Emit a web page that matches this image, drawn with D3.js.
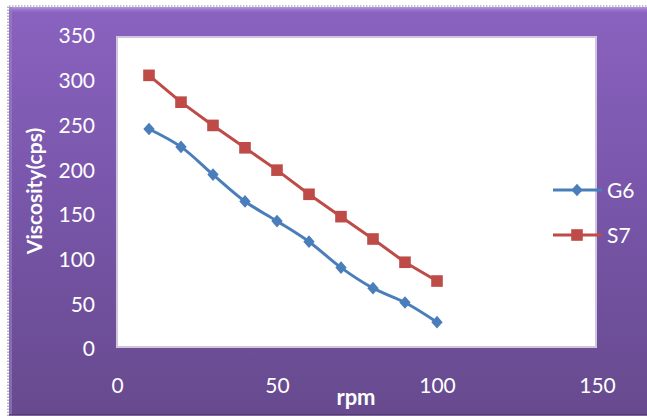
<!DOCTYPE html>
<html>
<head>
<meta charset="utf-8">
<script src="https://cdn.jsdelivr.net/npm/d3@7"></script>
<style>
  html, body { margin: 0; padding: 0; background: #ffffff; }
  svg { display: block; }
  text { font-family: Lato, "Open Sans", sans-serif; fill: #ffffff; }
</style>
</head>
<body>
<svg id="chart" width="647" height="416"></svg>
<script>
// Shear rate (rpm) against viscosity (cps) for two formulations
const rpm = [10, 20, 30, 40, 50, 60, 70, 80, 90, 100];
const g6 = [246, 226, 195, 165, 143, 120, 91, 68, 52, 30];
const s7 = [306, 276, 250, 225, 200, 173, 148, 123, 97, 76];
const seriesNames = ["G6", "S7"];
const xTicks = [0, 50, 100, 150];
const yTicks = [0, 50, 100, 150, 200, 250, 300, 350];

const svg = d3.select("#chart");
const W = 647, H = 416;

const defs = svg.append("defs");
const bg = defs.append("linearGradient").attr("id", "bg").attr("x1", 0).attr("y1", 0).attr("x2", 0).attr("y2", 1);
bg.append("stop").attr("offset", 0).attr("stop-color", "#8a62c0");
bg.append("stop").attr("offset", 0.5).attr("stop-color", "#7755a8");
bg.append("stop").attr("offset", 1).attr("stop-color", "#674a8e");

const topBevel = defs.append("linearGradient").attr("id", "topBevel").attr("x1", 0).attr("y1", 0).attr("x2", 0).attr("y2", 1);
topBevel.append("stop").attr("offset", 0).attr("stop-color", "#b69ae0");
topBevel.append("stop").attr("offset", 1).attr("stop-color", "#8a62c0").attr("stop-opacity", 0);

// Chart frame
const frame = { x: 9, y: 7, w: W - 9, h: 408 };
svg.append("rect").attr("x", frame.x).attr("y", frame.y).attr("width", frame.w).attr("height", frame.h)
  .attr("fill", "url(#bg)");
svg.append("rect").attr("x", frame.x).attr("y", frame.y).attr("width", frame.w).attr("height", 7)
  .attr("fill", "url(#topBevel)");
svg.append("rect").attr("x", frame.x).attr("y", frame.y).attr("width", 3).attr("height", frame.h)
  .attr("fill", "#9c7fcc").attr("opacity", 0.6);
svg.append("line").attr("x1", frame.x).attr("x2", W).attr("y1", frame.y + frame.h).attr("y2", frame.y + frame.h)
  .attr("stroke", "#4e3870").attr("stroke-width", 1.5);
// dotted outline on left and top
svg.append("path")
  .attr("d", `M${frame.x - 1},${H} V${frame.y - 1} H${W}`)
  .attr("fill", "none").attr("stroke", "#8a8a8a").attr("stroke-width", 1.2).attr("stroke-dasharray", "1.5,1.5");

// Scales
const x = d3.scaleLinear().domain([0, 150]).range([117, 597]);
const y = d3.scaleLinear().domain([0, 350]).range([349, 36]);

// Plot area
const plot = { x0: 117, x1: 596, y0: 37, y1: 347 };
svg.append("rect")
  .attr("x", plot.x0).attr("y", plot.y0)
  .attr("width", plot.x1 - plot.x0).attr("height", plot.y1 - plot.y0)
  .attr("fill", "#ffffff").attr("stroke", "#cfc6dc").attr("stroke-width", 2);

// Y axis labels
const yAxis = d3.axisLeft(y).tickValues(yTicks).tickSize(0).tickPadding(0);
const yg = svg.append("g").attr("transform", "translate(95,0)").call(yAxis);
yg.select(".domain").remove();
yg.selectAll("text").attr("font-size", 21).attr("fill", "#ffffff")
  .style("font-family", "Lato, sans-serif").attr("dy", "0.33em");

// X axis labels sit below the plot area
const xAxis = d3.axisBottom(x).tickValues(xTicks).tickSize(0).tickPadding(0);
const xg = svg.append("g").attr("transform", "translate(0,378)").call(xAxis);
xg.select(".domain").remove();
xg.selectAll("text").attr("font-size", 21).attr("fill", "#ffffff")
  .style("font-family", "Lato, sans-serif").attr("dy", "0.71em");

// Axis titles
svg.append("text").attr("x", 356).attr("y", 405).attr("text-anchor", "middle")
  .attr("font-size", 22).attr("font-weight", "bold").text("rpm");
svg.append("text").attr("transform", "translate(42,191) rotate(-90)").attr("text-anchor", "middle")
  .attr("font-size", 21).attr("font-weight", "bold").text("Viscosity(cps)");

const blue = "#4a7ebb", red = "#be4b48";
// diamond = square turned 45 degrees, slightly stretched vertically
const diamond = d3.symbol().type(d3.symbolSquare).size(64);
const diamondTf = "rotate(45)";
const diamondWrap = "scale(1,1.12)";
const square = d3.symbol().type(d3.symbolSquare).size(135);

// G6 (smoothed line)
const g6Pts = rpm.map((r, i) => [r, g6[i]]);
svg.append("path").datum(g6Pts)
  .attr("d", d3.line().x(d => x(d[0])).y(d => y(d[1])).curve(d3.curveCatmullRom.alpha(0.5)))
  .attr("fill", "none").attr("stroke", blue).attr("stroke-width", 3);
svg.append("g").selectAll("path").data(g6Pts).join("path")
  .attr("transform", d => `translate(${x(d[0])},${y(d[1])}) ${diamondWrap} ${diamondTf}`)
  .attr("d", diamond).attr("fill", blue);

// S7
const s7Pts = rpm.map((r, i) => [r, s7[i]]);
svg.append("path").datum(s7Pts)
  .attr("d", d3.line().x(d => x(d[0])).y(d => y(d[1])))
  .attr("fill", "none").attr("stroke", red).attr("stroke-width", 3);
svg.append("g").selectAll("path").data(s7Pts).join("path")
  .attr("transform", d => `translate(${x(d[0])},${y(d[1])})`)
  .attr("d", square).attr("fill", red);

// Legend
const legend = svg.append("g");
const legendItems = [
  { name: seriesNames[0], color: blue, sym: diamond, tf: `${diamondWrap} ${diamondTf}`, y: 190 },
  { name: seriesNames[1], color: red, sym: square, tf: "", y: 235 }
];
legendItems.forEach(it => {
  legend.append("line").attr("x1", 553).attr("x2", 602).attr("y1", it.y).attr("y2", it.y)
    .attr("stroke", it.color).attr("stroke-width", 3);
  legend.append("path").attr("transform", `translate(577,${it.y}) ${it.tf}`).attr("d", it.sym).attr("fill", it.color);
  legend.append("text").attr("x", 607).attr("y", it.y).attr("dy", "0.36em")
    .attr("font-size", 21).text(it.name);
});
</script>
</body>
</html>
